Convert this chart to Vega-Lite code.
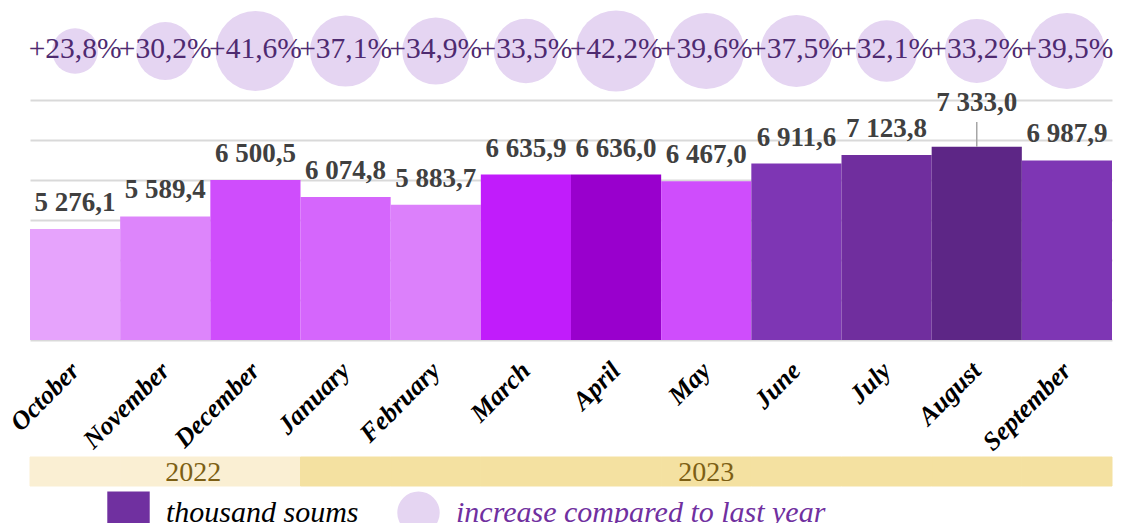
{
  "$schema": "https://vega.github.io/schema/vega-lite/v6.json",
  "width": 1082,
  "height": 340,
  "autosize": {"type": "none"},
  "padding": {"left": 30, "top": 0, "right": 12, "bottom": 183},
  "background": "white",
  "config": {
    "locale": {"number": {"decimal": ",", "thousands": " ", "grouping": [3], "currency": ["", ""], "percent": "%"}},
    "view": {"stroke": null},
    "font": "Liberation Serif"
  },
  "datasets": {
    "monthly": [
      {"month": "October", "year": "2022", "value": 5276.1, "growth": 0.238},
      {"month": "November", "year": "2022", "value": 5589.4, "growth": 0.302},
      {"month": "December", "year": "2022", "value": 6500.5, "growth": 0.416},
      {"month": "January", "year": "2023", "value": 6074.8, "growth": 0.371},
      {"month": "February", "year": "2023", "value": 5883.7, "growth": 0.349},
      {"month": "March", "year": "2023", "value": 6635.9, "growth": 0.335},
      {"month": "April", "year": "2023", "value": 6636.0, "growth": 0.422},
      {"month": "May", "year": "2023", "value": 6467.0, "growth": 0.396},
      {"month": "June", "year": "2023", "value": 6911.6, "growth": 0.375},
      {"month": "July", "year": "2023", "value": 7123.8, "growth": 0.321},
      {"month": "August", "year": "2023", "value": 7333.0, "growth": 0.332},
      {"month": "September", "year": "2023", "value": 6987.9, "growth": 0.395}
    ],
    "years": [
      {"year": "2022", "month": "November"},
      {"year": "2023", "month": "May"}
    ],
    "legendItems": [
      {"item": "thousand soums"},
      {"item": "increase compared to last year"}
    ]
  },
  "layer": [
    {
      "data": {"name": "monthly"},
      "encoding": {
        "x": {
          "field": "month", "type": "nominal",
          "scale": {"domain": ["October","November","December","January","February","March","April","May","June","July","August","September"], "paddingInner": 0, "paddingOuter": 0},
          "axis": {"title": null, "labelAngle": -45, "labelFont": "Liberation Serif", "labelFontSize": 26, "labelFontWeight": "bold", "labelFontStyle": "italic", "labelColor": "#000000", "ticks": false, "domain": false, "grid": false, "labelPadding": 17, "labelOffset": -9}
        }
      },
      "layer": [
        {
          "mark": {"type": "bar"},
          "encoding": {
            "y": {
              "field": "value", "type": "quantitative",
              "scale": {"domain": [2500, 11000], "nice": false, "zero": false},
              "axis": {"values": [2500, 3500, 4500, 5500, 6500, 7500, 8500], "grid": true, "gridColor": "#d9d9d9", "gridWidth": 2, "labels": false, "ticks": false, "domain": false, "title": null}
            },
            "y2": {"datum": 2500},
            "color": {
              "field": "month", "type": "nominal",
              "scale": {"domain": ["October","November","December","January","February","March","April","May","June","July","August","September"],
                        "range": ["#e6a3fc", "#dd85fb", "#cf4dfc", "#d566fc", "#dc80fb", "#c11cfb", "#9900cd", "#cf4dfc", "#7e36b4", "#702e9e", "#5d2686", "#7e36b4"]},
              "legend": null
            }
          }
        },
        {
          "mark": {"type": "circle", "color": "#e5d5f2", "opacity": 1},
          "encoding": {
            "y": {"datum": 9725, "type": "quantitative"},
            "size": {"field": "growth", "type": "quantitative", "scale": {"type": "pow", "exponent": 2, "domain": [0, 0.5], "range": [0, 9216]}, "legend": null}
          }
        },
        {
          "mark": {"type": "text", "font": "Liberation Serif", "fontSize": 29.5, "color": "#4e2a70", "baseline": "alphabetic", "dy": 7},
          "encoding": {
            "y": {"datum": 9725, "type": "quantitative"},
            "text": {"field": "growth", "type": "quantitative", "format": "+.1%"}
          }
        },
        {
          "transform": [{"filter": "datum.month != 'August'"}],
          "mark": {"type": "text", "font": "Liberation Serif", "fontSize": 27, "fontWeight": "bold", "color": "#404040", "baseline": "alphabetic", "dy": -18},
          "encoding": {
            "y": {"field": "value", "type": "quantitative"},
            "text": {"field": "value", "type": "quantitative", "format": ",.1f"}
          }
        },
        {
          "transform": [{"filter": "datum.month == 'August'"}],
          "mark": {"type": "text", "font": "Liberation Serif", "fontSize": 27, "fontWeight": "bold", "color": "#404040", "baseline": "alphabetic", "dy": -36},
          "encoding": {
            "y": {"field": "value", "type": "quantitative"},
            "text": {"field": "value", "type": "quantitative", "format": ",.1f"}
          }
        },
        {
          "transform": [{"filter": "datum.month == 'August'"}],
          "mark": {"type": "rule", "color": "#a6a6a6", "strokeWidth": 1.5},
          "encoding": {
            "y": {"field": "value", "type": "quantitative"},
            "y2": {"datum": 7950}
          }
        }
      ]
    },
    {
      "layer": [
        {
          "data": {"name": "monthly"},
          "mark": {"type": "rect", "strokeWidth": 1},
          "encoding": {
            "x": {"field": "month", "type": "nominal", "scale": {"domain": ["October","November","December","January","February","March","April","May","June","July","August","September"], "paddingInner": 0, "paddingOuter": 0}, "axis": null},
            "y": {"datum": "yearband", "type": "nominal", "scale": {"range": [457, 486], "paddingInner": 0, "paddingOuter": 0}, "axis": null},
            "color": {"field": "year", "type": "nominal", "scale": {"domain": ["2022", "2023"], "range": ["#faefd3", "#f4e1a1"]}, "legend": null},
            "stroke": {"field": "year", "type": "nominal", "scale": {"domain": ["2022", "2023"], "range": ["#faefd3", "#f4e1a1"]}, "legend": null}
          }
        },
        {
          "data": {"name": "years"},
          "transform": [{"filter": "datum.year == '2022'"}],
          "mark": {"type": "text", "font": "Liberation Serif", "fontSize": 28, "color": "#7d5f14", "baseline": "alphabetic", "align": "left", "dy": 9},
          "encoding": {
            "x": {"field": "month", "type": "nominal", "scale": {"domain": ["October","November","December","January","February","March","April","May","June","July","August","September"], "paddingInner": 0, "paddingOuter": 0}, "axis": null},
            "y": {"datum": "yearband", "type": "nominal", "axis": null},
            "text": {"field": "year", "type": "nominal"}
          }
        },
        {
          "data": {"name": "years"},
          "transform": [{"filter": "datum.year == '2023'"}],
          "mark": {"type": "text", "font": "Liberation Serif", "fontSize": 28, "color": "#7d5f14", "baseline": "alphabetic", "align": "center", "dy": 9},
          "encoding": {
            "x": {"field": "month", "type": "nominal", "scale": {"domain": ["October","November","December","January","February","March","April","May","June","July","August","September"], "paddingInner": 0, "paddingOuter": 0}, "axis": null},
            "y": {"datum": "yearband", "type": "nominal", "axis": null},
            "text": {"field": "year", "type": "nominal"}
          }
        }
      ]
    },
    {
      "data": {"name": "legendItems"},
      "transform": [{"filter": "false"}],
      "mark": {"type": "point", "filled": true, "opacity": 1},
      "encoding": {
        "color": {
          "field": "item", "type": "nominal",
          "scale": {"domain": ["thousand soums", "increase compared to last year"], "range": ["#7030a0", "#e5d5f2"]},
          "legend": {"title": null, "orient": "none", "legendX": 77, "legendY": 491, "direction": "horizontal", "symbolSize": 1800, "symbolStrokeWidth": 0, "symbolOpacity": 1, "labelFont": "Liberation Serif", "labelFontStyle": "italic", "labelFontSize": 30, "labelColor": {"expr": "datum.label == 'thousand soums' ? '#000000' : '#7030a0'"}, "labelOffset": 16, "labelLimit": 600, "columnPadding": 38, "padding": 0}
        },
        "shape": {
          "field": "item", "type": "nominal",
          "scale": {"domain": ["thousand soums", "increase compared to last year"], "range": ["square", "circle"]}
        }
      }
    }
  ],
  "resolve": {
    "scale": {"x": "independent", "y": "independent", "color": "independent", "stroke": "independent", "shape": "independent"},
    "axis": {"x": "independent", "y": "independent"}
  }
}
